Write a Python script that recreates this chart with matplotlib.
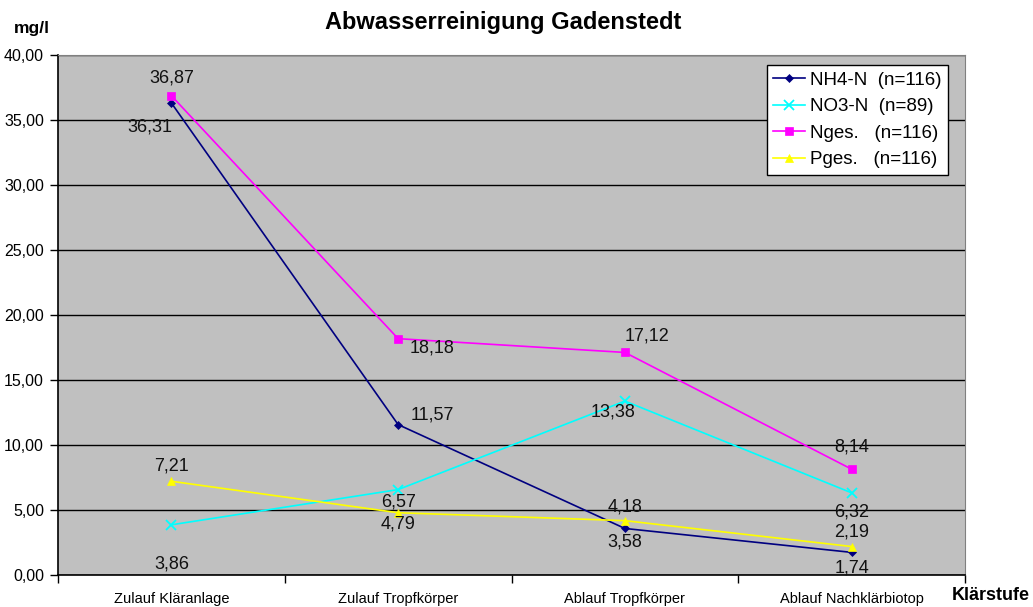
import matplotlib
matplotlib.use('Agg')
import matplotlib.pyplot as plt
from matplotlib.ticker import MultipleLocator, FuncFormatter

plt.rcParams['font.family'] = ['Liberation Sans', 'DejaVu Sans']

stages = ['Zulauf Kläranlage', 'Zulauf Tropfkörper', 'Ablauf Tropfkörper', 'Ablauf Nachklärbiotop']
nh4 = [36.31, 11.57, 3.58, 1.74]
no3 = [3.86, 6.57, 13.38, 6.32]
nges = [36.87, 18.18, 17.12, 8.14]
pges = [7.21, 4.79, 4.18, 2.19]

series = [
    ('NH4-N  (n=116)', nh4, '#000080', 'D', 4, [(-22, -24), (34, 10), (0, -14), (0, -16)]),
    ('NO3-N  (n=89)', no3, '#00FFFF', 'x', 7, [(0, -39), (0, -12), (-12, -11), (0, -19)]),
    ('Nges.   (n=116)', nges, '#FF00FF', 's', 6, [(0, 18), (34, -9), (22, 16), (0, 22)]),
    ('Pges.   (n=116)', pges, '#FFFF00', '^', 6, [(0, 15), (0, -11), (0, 14), (0, 15)]),
]

fig = plt.figure(figsize=(10.33, 6.07), dpi=100)
ax = fig.add_axes([58 / 1033, 32 / 607, 907 / 1033, 520 / 607])
ax.set_facecolor('#C0C0C0')

x = list(range(len(stages)))
for label, vals, color, marker, ms, offs in series:
    ax.plot(x, vals, color=color, marker=marker, markersize=ms, linewidth=1.2,
            label=label, markeredgewidth=1.3 if marker == 'x' else 0.5,
            markeredgecolor=color, zorder=3)
    for xi, v, off in zip(x, vals, offs):
        ax.annotate(f'{v:.2f}'.replace('.', ','), (xi, v), xytext=off,
                    textcoords='offset pixels', ha='center', va='center',
                    fontsize=13, color='#111111', zorder=4)

ax.set_xlim(-0.5, 3.5)
ax.set_ylim(0, 40)
ax.yaxis.set_major_locator(MultipleLocator(5))
ax.yaxis.set_major_formatter(FuncFormatter(lambda v, p: f'{v:.2f}'.replace('.', ',')))
ax.grid(axis='y', color='black', linewidth=1)
ax.set_axisbelow(True)

ax.set_xticks(x)
ax.set_xticklabels(stages, fontsize=10.5)
ax.set_xticks([-0.5, 0.5, 1.5, 2.5, 3.5], minor=True)
ax.tick_params(axis='x', which='major', length=0, pad=12)
ax.tick_params(axis='x', which='minor', length=6, width=1, direction='out')
ax.tick_params(axis='y', length=6, width=1, direction='out', labelsize=11.5, pad=4)

for s in ['left', 'bottom']:
    ax.spines[s].set_color('black')
    ax.spines[s].set_linewidth(1.2)
for s in ['top', 'right']:
    ax.spines[s].set_color('#808080')
    ax.spines[s].set_linewidth(0.8)

leg = ax.legend(loc='upper right', bbox_to_anchor=(0.981, 0.981), fontsize=13.5,
                frameon=True, fancybox=False, edgecolor='black', framealpha=1,
                handlelength=1.7, borderpad=0.35, labelspacing=0.5, handletextpad=0.25,
                borderaxespad=0)
leg.get_frame().set_linewidth(1)

fig.text(503 / 1033, 1 - 22 / 607, 'Abwasserreinigung Gadenstedt', ha='center', va='center',
         fontsize=17, fontweight='bold')
fig.text(32 / 1033, 1 - 29 / 607, 'mg/l', ha='center', va='center', fontsize=12.5, fontweight='bold')
fig.text(991 / 1033, 1 - 596 / 607, 'Klärstufe', ha='center', va='center', fontsize=13, fontweight='bold')

fig.savefig('out.png', dpi=100)
